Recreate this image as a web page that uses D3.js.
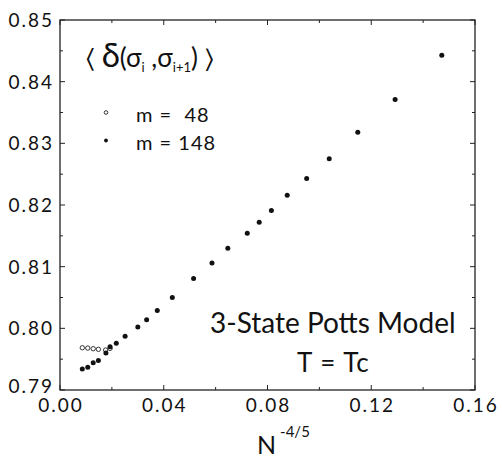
<!DOCTYPE html>
<html>
<head>
<meta charset="utf-8">
<script src="https://cdn.jsdelivr.net/npm/d3@7"></script>
<style>
  html, body { margin: 0; padding: 0; background: #fff; }
  text { font-family: Lato, "Open Sans", sans-serif; fill: #111; }
</style>
</head>
<body>
<div id="chart"></div>
<script>
// m = 148 (filled dots)
const xFilled = [0.0086, 0.0107, 0.0128, 0.0148, 0.0177, 0.0193, 0.0217, 0.0251, 0.0300, 0.0334,
                 0.0375, 0.0433, 0.0515, 0.0586, 0.0647, 0.0722, 0.0768, 0.0815, 0.0876, 0.0951,
                 0.1038, 0.1148, 0.1292, 0.1472];
const yFilled = [0.7934, 0.7937, 0.7944, 0.7948, 0.7960, 0.7970, 0.7976, 0.7987, 0.8002, 0.8014,
                 0.8029, 0.8050, 0.8081, 0.8106, 0.8130, 0.8154, 0.8172, 0.8191, 0.8216, 0.8243,
                 0.8275, 0.8318, 0.8371, 0.8443];
// m = 48 (open circles)
const xOpen = [0.0086, 0.0107, 0.0128, 0.0148, 0.0176, 0.0193];
const yOpen = [0.79685, 0.79680, 0.79670, 0.79660, 0.79648, 0.79675];

const xMajor = [0, 0.04, 0.08, 0.12, 0.16];
const xMinor = [0.02, 0.06, 0.10, 0.14];
const yMajor = [0.79, 0.80, 0.81, 0.82, 0.83, 0.84, 0.85];
const yMinor = [0.795, 0.805, 0.815, 0.825, 0.835, 0.845];
const legendLabels = ["m =  48", "m = 148"];

const width = 502, height = 458;
const margin = { top: 20, right: 27, bottom: 68, left: 60 };

const svg = d3.select("#chart").append("svg")
  .attr("width", width).attr("height", height);

const x = d3.scaleLinear().domain([0, 0.16]).range([margin.left, width - margin.right]);
const y = d3.scaleLinear().domain([0.79, 0.85]).range([height - margin.bottom, margin.top]);

const ink = "#222";

// frame
svg.append("rect")
  .attr("x", x(0)).attr("y", y(0.85))
  .attr("width", x(0.16) - x(0)).attr("height", y(0.79) - y(0.85))
  .attr("fill", "none").attr("stroke", ink).attr("stroke-width", 1.3);

// inward ticks on all four sides
function xticks(vals, len) {
  vals.forEach(v => {
    svg.append("line").attr("x1", x(v)).attr("x2", x(v))
      .attr("y1", y(0.79)).attr("y2", y(0.79) - len).attr("stroke", ink).attr("stroke-width", 1);
    svg.append("line").attr("x1", x(v)).attr("x2", x(v))
      .attr("y1", y(0.85)).attr("y2", y(0.85) + len).attr("stroke", ink).attr("stroke-width", 1);
  });
}
function yticks(vals, len) {
  vals.forEach(v => {
    svg.append("line").attr("x1", x(0)).attr("x2", x(0) + len)
      .attr("y1", y(v)).attr("y2", y(v)).attr("stroke", ink).attr("stroke-width", 1);
    svg.append("line").attr("x1", x(0.16)).attr("x2", x(0.16) - len)
      .attr("y1", y(v)).attr("y2", y(v)).attr("stroke", ink).attr("stroke-width", 1);
  });
}
xticks(xMajor, 5);
xticks(xMinor, 3);
yticks(yMajor, 5);
yticks(yMinor, 3);

// tick labels
svg.selectAll(".xl").data(xMajor).enter().append("text")
  .attr("x", d => x(d) + 1).attr("y", 412)
  .attr("text-anchor", "middle")
  .style("font-size", "19px").style("letter-spacing", "2px")
  .text(d => d.toFixed(2));

svg.selectAll(".yl").data(yMajor).enter().append("text")
  .attr("x", 54).attr("y", d => y(d) + (d === 0.79 ? 3 : 7))
  .attr("text-anchor", "end")
  .style("font-size", "19px").style("letter-spacing", "2px")
  .text(d => d.toFixed(2));

// x axis title N^-4/5
const xt = svg.append("text").attr("x", 257).attr("y", 454).style("font-size", "25px");
xt.append("tspan").text("N");
xt.append("tspan").attr("dx", 4).attr("dy", -17).style("font-size", "15px").text("-4/5");

// data
svg.selectAll(".open").data(xOpen).enter().append("circle")
  .attr("cx", d => x(d)).attr("cy", (d, i) => y(yOpen[i])).attr("r", 2.2)
  .attr("fill", "#fff").attr("stroke", ink).attr("stroke-width", 0.9);

svg.selectAll(".filled").data(xFilled).enter().append("circle")
  .attr("cx", d => x(d)).attr("cy", (d, i) => y(yFilled[i])).attr("r", 2.5)
  .attr("fill", "#111");

// title inside plot: < delta(sigma_i, sigma_i+1) >
const t = svg.append("text").attr("x", 86).attr("y", 67).style("font-size", "26px");
t.append("tspan").text("\u2329 ");
t.append("tspan").style("font-size", "33px").text("\u03B4");
t.append("tspan").text("(\u03C3");
t.append("tspan").attr("dy", 5).style("font-size", "13px").text("i");
t.append("tspan").attr("dy", -5).text(" ,\u03C3");
t.append("tspan").attr("dy", 5).style("font-size", "13px").text("i+1");
t.append("tspan").attr("dy", -5).text(")  \u232A");

// legend
svg.append("circle").attr("cx", 106).attr("cy", 112.5).attr("r", 1.8)
  .attr("fill", "#fff").attr("stroke", ink).attr("stroke-width", 0.9);
svg.append("circle").attr("cx", 106).attr("cy", 140.5).attr("r", 1.9).attr("fill", "#111");
svg.selectAll(".lg").data(legendLabels).enter().append("text")
  .attr("x", 136).attr("y", (d, i) => 122 + i * 28)
  .style("font-size", "20px").style("letter-spacing", "1px")
  .style("white-space", "pre").attr("xml:space", "preserve")
  .text(d => d);

// annotation
svg.append("text").attr("x", 210).attr("y", 333).style("font-size", "28px").text("3-State Potts Model");
svg.append("text").attr("x", 297).attr("y", 372).style("font-size", "26px").style("letter-spacing", "1px").text("T = Tc");
</script>
</body>
</html>
